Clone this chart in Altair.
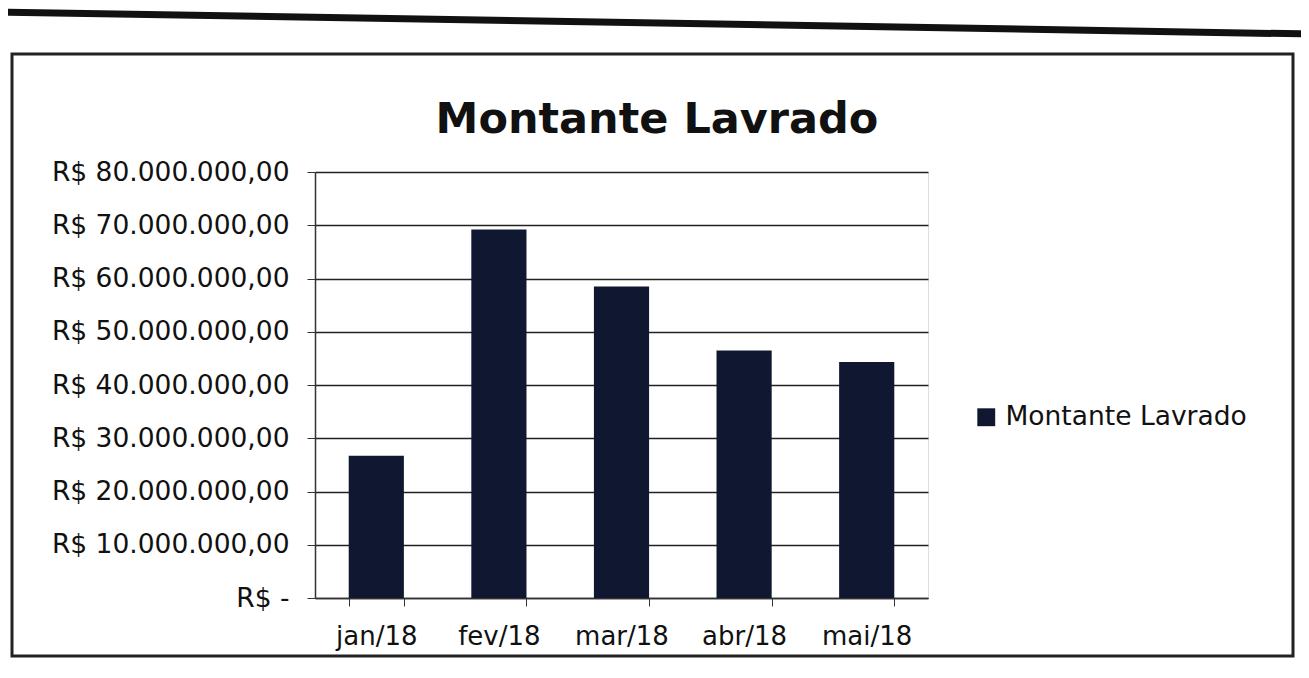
import altair as alt
import pandas as pd

months = ["jan/18", "fev/18", "mar/18", "abr/18", "mai/18"]
values = [26700000, 69200000, 58500000, 46500000, 44300000]
series = ["Montante Lavrado"] * len(months)
y_ticks = [0, 10000000, 20000000, 30000000, 40000000, 50000000, 60000000, 70000000, 80000000]
title_text = ["Montante Lavrado"]

df = pd.DataFrame({"mes": months, "valor": values, "serie": series})
tdf = pd.DataFrame({"t": title_text})

FONT = "DejaVu Sans"
NAVY = "#0f1830"

bars = alt.Chart(df).mark_bar(color=NAVY).encode(
    x=alt.X("mes:N", sort=months, title=None,
            scale=alt.Scale(paddingInner=0.55, paddingOuter=0.275),
            axis=alt.Axis(labelAngle=0, tickBand="extent", labelFontSize=26, labelFont=FONT,
                          labelColor="#111", labelPadding=17, tickSize=8, tickColor="#333",
                          domainColor="#333", domainWidth=1.5, grid=False, labelLimit=0)),
    y=alt.Y("valor:Q", title=None,
            scale=alt.Scale(domain=[0, 80000000], nice=False),
            axis=alt.Axis(values=y_ticks, labelFontSize=26.5, labelFont=FONT, labelColor="#111",
                          labelPadding=18, tickSize=8, tickColor="#333", domainColor="#333",
                          domainWidth=1.5, gridColor="#222", gridWidth=1.5, labelLimit=0,
                          labelExpr="datum.value == 0 ? 'R$ -' : 'R$ ' + format(datum.value / 1000000, 'd') + '.000.000,00'")),
    fill=alt.Fill("serie:N", scale=alt.Scale(range=[NAVY]),
                  legend=alt.Legend(title=None, orient="none", legendX=658, legendY=232,
                                    symbolType="square", symbolSize=320, symbolStrokeWidth=0,
                                    labelFontSize=26.5, labelFont=FONT, labelColor="#111",
                                    labelOffset=6, labelLimit=0)),
)

title = alt.Chart(tdf).mark_text(font=FONT, fontSize=43, fontWeight="bold", color="#111",
                                 align="center", baseline="middle").encode(
    x=alt.value(342), y=alt.value(-52), text="t:N"
)

frame = alt.Chart(tdf).mark_rect(fill=None, stroke="#222", strokeWidth=3).encode(
    x=alt.value(-303), x2=alt.value(978), y=alt.value(-118), y2=alt.value(484)
)

top_line = alt.Chart(tdf).mark_rule(stroke="#111", strokeWidth=7).encode(
    x=alt.value(-315), x2=alt.value(994), y=alt.value(-160), y2=alt.value(-138)
)

chart = alt.layer(frame, top_line, bars, title).properties(
    width=613, height=426,
    padding={"left": 307, "top": 164, "right": 373, "bottom": 72},
    autosize=alt.AutoSizeParams(type="none"),
).configure_view(stroke=None).configure(background="white")

chart.save("out.html", embed_options={"renderer": "svg", "actions": False})
